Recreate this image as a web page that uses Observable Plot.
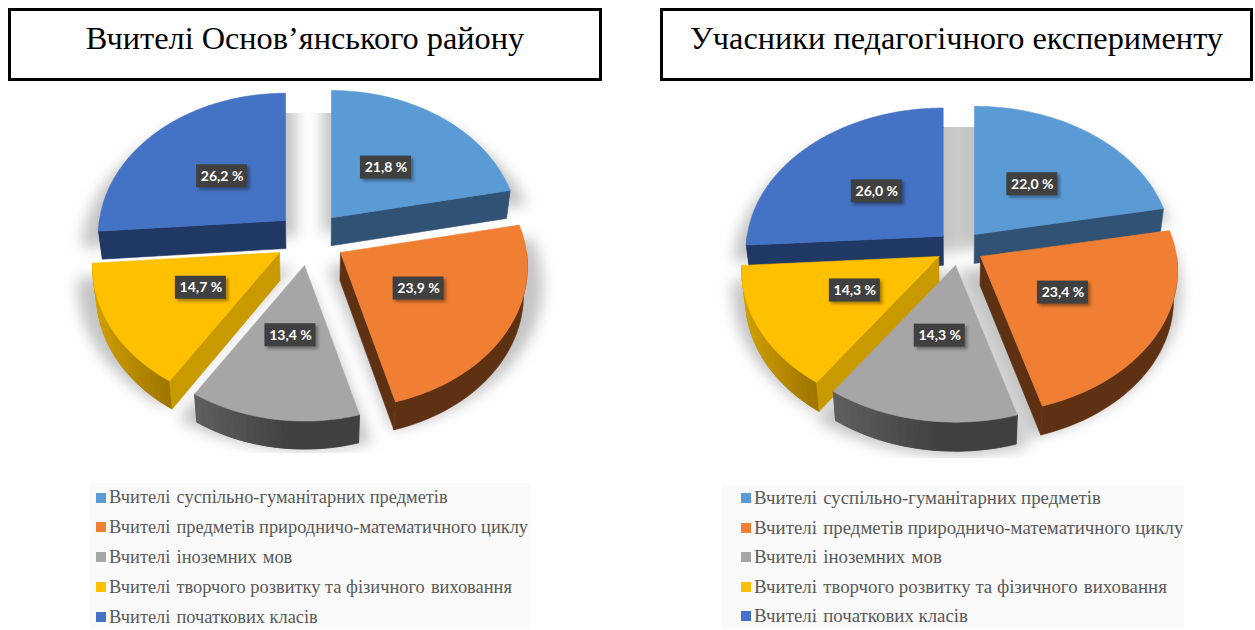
<!DOCTYPE html>
<html lang="uk">
<head>
<meta charset="utf-8">
<script src="https://cdn.jsdelivr.net/npm/d3@7"></script>
<script src="https://cdn.jsdelivr.net/npm/@observablehq/plot@0.6"></script>
<style>
  html, body { margin: 0; padding: 0; background: #fff; }
  #page { position: relative; width: 1255px; height: 630px; overflow: hidden; }
  .title { position: absolute; top: 8px; height: 73px; box-sizing: border-box; border: 3px solid #000;
           display: flex; align-items: center; justify-content: center; padding-bottom: 13px;
           font-family: "Liberation Serif", serif; color: #000; white-space: nowrap; }
  .legend { position: absolute; background: #fafafa; font-family: "Liberation Serif", serif; color: #595959; white-space: pre; }
  .legend .row { position: absolute; display: flex; align-items: center; }
  .legend .sw { display: inline-block; width: 10px; height: 10px; margin-right: 3px; flex: none; }
  .chart { position: absolute; }
  .chart svg { display: block; overflow: visible; }
</style>
</head>
<body>
<div id="page"></div>
<script>
// ---------- data ----------
const categories = [
  "Вчителі \u200aсуспільно-гуманітарних предметів",
  "Вчителі \u200aпредметів природничо-математичного циклу",
  "Вчителі \u200aіноземних \u200aмов",
  "Вчителі \u200aтворчого розвитку та фізичного \u200aвиховання",
  "Вчителі \u200aпочаткових класів"
];
const titleLeft = "Вчителі Основ’янського району";
const titleRight = "Учасники педагогічного експерименту";
const valuesLeft = [21.8, 23.9, 13.4, 14.7, 26.2];
const valuesRight = [22.0, 23.4, 14.3, 14.3, 26.0];

// ---------- styles ----------
const topColors = ["#5b9bd5", "#f07f33", "#a6a6a6", "#ffc000", "#4472c4"];
const radialWallColors = ["#2f5275", "#5f3113", "#404040", "#c99900", "#203864"];
const arcWallColors = [["#2f5275", "#2f5275"], ["#5f3113", "#5f3113"], ["#5f5f5f", "#404040"], ["#d2a000", "#9c7400"], ["#203864", "#203864"]];
const drawOrder = [0, 4, 1, 3, 2];

// ---------- layout of the two 3-D pies ----------
const layoutLeft = {
  ox: 60, oy: 85, w: 500, h: 385, cx: 310, Rx: 186, Ry: 140, k: 0.1, thick: 28,
  apex: [[331, 217.3], [340, 252], [304, 265], [279, 252], [285, 220]],
  shadowTop: 113, shadowBottom: 453,
  shadow: {pull: 0.6, k: 0.12, Rx: 212, Ry: 148, dy: 15},
  title: {left: 8, width: 594, font: 32.3}, legend: {left: 90, top: 483, width: 441, height: 146, swX: 6, rows: [14.5, 44, 74, 104, 134], font: 18.4}
};
const layoutRight = {
  ox: 705, oy: 90, w: 500, h: 385, cx: 956, Rx: 196, Ry: 141, k: 0.1, thick: 29,
  apex: [[974, 234], [980, 256], [955, 265], [938.3, 256], [942.7, 235.7]],
  shadowTop: 127, shadowBottom: 458,
  shadow: {pull: 0.1, k: 0.12, Rx: 220, Ry: 153, dy: 15},
  title: {left: 660, width: 593, font: 32.3}, legend: {left: 722, top: 485, width: 462, height: 143, swX: 19, rows: [13, 43, 72, 101.5, 130.5], font: 18.85}
};

const rad = (d) => d * 180 / Math.PI;
const pieGen = d3.pie().sort(null);

function pieMarks(values, L) {
  const arcs = pieGen(values);
  const project = (i, r, deg, o = {}) => {
    const t = deg * Math.PI / 180;
    const X = r * Math.sin(t), Y = r * Math.cos(t);
    const k = o.k ?? L.k, s = 1 / (1 + k * Y);
    const ax = o.pull === undefined ? L.apex[i][0] : L.cx + (L.apex[i][0] - L.cx) * o.pull;
    return [ax + (o.Rx ?? L.Rx) * X * s, L.apex[i][1] + (o.dy ?? 0) - (o.Ry ?? L.Ry) * Y * s];
  };
  const lower = ([x, y]) => [x - 0.018 * (x - L.cx), y + L.thick];
  const rows = [], shadow = [];
  let id = 0;
  const poly = (pts, color, target = rows) => {
    id++;
    for (const [x, y] of [...pts, pts[0]]) target.push({x, y, z: id, c: color});
  };
  const degs = (a, b, step = 1) => {
    const out = [];
    for (let d = a; d < b; d += step) out.push(d);
    out.push(b);
    return out;
  };
  arcs.forEach((a, i) => {
    const t0 = rad(a.startAngle), t1 = rad(a.endAngle);
    poly([project(i, 0, 0, L.shadow), ...degs(t0, t1).map((d) => project(i, 1, d, L.shadow))], "#c4c4c4", shadow);
  });
  for (const i of drawOrder) {
    const a = arcs[i];
    const t0 = rad(a.startAngle), t1 = rad(a.endAngle);
    const apex = project(i, 0, 0);
    // outer wall of the slice, split in strips for the shading
    const from = Math.max(t0, 90), to = Math.min(t1, 270);
    if (from < to) {
      const ds = degs(from, to, 2);
      const xs = ds.map((d) => project(i, 1, d)[0]);
      const [xa, xb] = d3.extent(xs);
      const [cl, cr] = arcWallColors[i];
      const rim = ds.map((d) => project(i, 1, d));
      poly([...rim, ...rim.map(lower).reverse()], d3.interpolateRgb(cl, cr)(0.5));
      if (cl !== cr) for (let j = 0; j + 1 < ds.length; j++) {
        const p = rim[j], q = rim[j + 1];
        const f = Math.min(1, ((p[0] + q[0]) / 2 - xa) / (xb - xa) * (i === 2 ? 1.7 : 1));
        poly([p, q, lower(q), lower(p)], d3.rgb(d3.interpolateRgb(cl, cr)(f)).formatHex());
      }
    }
    // radial wall facing the viewer
    if (Math.sin(a.startAngle) < -1e-6) {
      const p = project(i, 1, t0);
      poly([apex, p, lower(p), lower(apex)], radialWallColors[i]);
    }
    if (Math.sin(a.endAngle) > 1e-6) {
      const p = project(i, 1, t1);
      poly([apex, p, lower(p), lower(apex)], radialWallColors[i]);
    }
    // top of the slice
    poly([apex, ...degs(t0, t1).map((d) => project(i, 1, d))], topColors[i]);
  }
  const labels = arcs.map((a, i) => {
    const [x, y] = project(i, 0.48, rad((a.startAngle + a.endAngle) / 2));
    return {x, y, label: values[i].toFixed(1).replace(".", ",") + " %"};
  });
  const clipId = "clip" + L.ox;
  const bw = 25.5, bh = 11.5;
  return [
    Plot.line(shadow, {
      x: "x", y: "y", z: "z", fill: "#c4c4c4", stroke: "#c4c4c4", imageFilter: "blur(7px)",
      render(index, scales, channels, dims, ctx, next) {
        const g = next(index, scales, channels, dims, ctx);
        const ns = "http://www.w3.org/2000/svg";
        const wrap = document.createElementNS(ns, "g");
        const cp = document.createElementNS(ns, "clipPath");
        cp.setAttribute("id", clipId);
        const r = document.createElementNS(ns, "rect");
        r.setAttribute("x", 0);
        r.setAttribute("width", dims.width);
        r.setAttribute("y", scales.y(L.shadowTop));
        r.setAttribute("height", scales.y(L.shadowBottom) - scales.y(L.shadowTop));
        cp.appendChild(r);
        wrap.appendChild(cp);
        wrap.setAttribute("clip-path", `url(#${clipId})`);
        wrap.appendChild(g);
        return wrap;
      }
    }),
    Plot.line(rows, {x: "x", y: "y", z: "z", fill: (d) => d.c, stroke: (d) => d.c, strokeWidth: 0.6}),
    Plot.rect(labels, {
      x1: (d) => d.x - bw + 2.5, x2: (d) => d.x + bw + 2.5, y1: (d) => d.y - bh + 2.5, y2: (d) => d.y + bh + 2.5,
      fill: "#000", fillOpacity: 0.35, imageFilter: "blur(1.5px)", inset: 0
    }),
    Plot.rect(labels, {
      x1: (d) => d.x - bw, x2: (d) => d.x + bw, y1: (d) => d.y - bh, y2: (d) => d.y + bh, fill: "#404040", inset: 0
    }),
    Plot.text(labels, {
      x: "x", y: "y", text: "label", fill: "#fff", fontFamily: "Lato", fontWeight: 700, fontSize: 14, stroke: "none"
    })
  ];
}

function panel(values, title, L) {
  const page = document.getElementById("page");
  const t = document.createElement("div");
  t.className = "title";
  t.style.left = L.title.left + "px";
  t.style.width = L.title.width + "px";
  t.style.fontSize = L.title.font + "px";
  t.textContent = title;
  page.appendChild(t);

  const holder = document.createElement("div");
  holder.className = "chart";
  holder.style.left = L.ox + "px";
  holder.style.top = L.oy + "px";
  holder.appendChild(Plot.plot({
    width: L.w, height: L.h, margin: 0,
    x: {domain: [L.ox, L.ox + L.w], range: [0, L.w], axis: null},
    y: {domain: [L.oy, L.oy + L.h], range: [0, L.h], axis: null},
    style: {background: "transparent"},
    marks: pieMarks(values, L)
  }));
  page.appendChild(holder);

  const lg = document.createElement("div");
  lg.className = "legend";
  const G = L.legend;
  Object.assign(lg.style, {left: G.left + "px", top: G.top + "px", width: G.width + "px", height: G.height + "px", fontSize: G.font + "px"});
  categories.forEach((c, i) => {
    const row = document.createElement("div");
    row.className = "row";
    row.style.left = G.swX + "px";
    row.style.top = (G.rows[i] - 10) + "px";
    row.style.height = "20px";
    const sw = document.createElement("span");
    sw.className = "sw";
    sw.style.background = topColors[i];
    const tx = document.createElement("span");
    tx.textContent = c;
    row.append(sw, tx);
    lg.appendChild(row);
  });
  page.appendChild(lg);
}

panel(valuesLeft, titleLeft, layoutLeft);
panel(valuesRight, titleRight, layoutRight);
</script>
</body>
</html>
